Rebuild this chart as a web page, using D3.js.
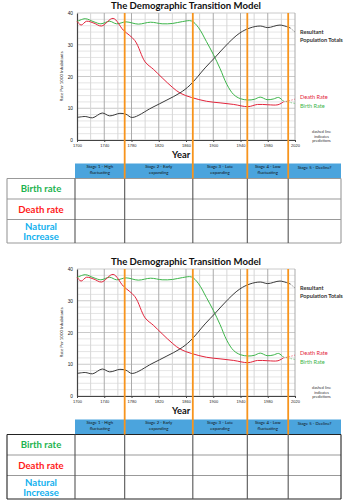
<!DOCTYPE html>
<html>
<head>
<meta charset="utf-8">
<script src="https://cdn.jsdelivr.net/npm/d3@7"></script>
<style>
  body { margin: 0; background: #fff; }
  svg { display: block; font-family: Lato, "Open Sans", sans-serif; }
</style>
</head>
<body>
<div id="chart"></div>
<script>
// --- data ---
const birthYears = [1700, 1712, 1725, 1735, 1748, 1758, 1772, 1790, 1808, 1825, 1840, 1855, 1868, 1878, 1890, 1900, 1910, 1920, 1930, 1940, 1951, 1960, 1969, 1979, 1988, 1996, 2002];
const birthRate  = [37.3, 38.2, 37.2, 36.6, 37.4, 36.6, 37.2, 36.5, 37.1, 36.6, 36.7, 37.3, 37.5, 35.5, 31, 27, 22.5, 17.5, 14.3, 13, 12.6, 12.8, 13.5, 12.7, 12.9, 13.4, 12.4];
const birthPredYears = [2002, 2011, 2020];
const birthPred = [12.4, 11.9, 11.5];

const deathYears = [1700, 1706, 1714, 1725, 1736, 1753, 1768, 1785, 1800, 1812, 1825, 1840, 1852, 1868, 1890, 1910, 1930, 1951, 1965, 1980, 1995, 2003];
const deathRate  = [37.4, 36.2, 37.4, 36.8, 35.9, 38.3, 34.6, 31.3, 24.6, 22.3, 19.6, 16.6, 14.7, 13.4, 12.2, 11.7, 11.2, 10.5, 11.2, 11.1, 11.1, 12];
const deathPredYears = [2003, 2012, 2020];
const deathPred = [12, 12.4, 12.9];

const popYears = [1700, 1712, 1723, 1737, 1748, 1763, 1772, 1781, 1810, 1832, 1851, 1866, 1888, 1903, 1922, 1939, 1954, 1969, 1980, 1998, 2013];
const popTotal = [7.1, 7.4, 7.0, 8.5, 7.6, 8.4, 8.1, 7.1, 10.2, 12.6, 14.8, 17.3, 22.7, 26.1, 30.5, 33.7, 35.3, 35.9, 35.4, 36.2, 35.3];
const popPredYears = [2013, 2020];
const popPred = [35.3, 34.0];

const stageBreaks = [1770, 1870, 1950, 2010];
const stageLabels = [
  ['Stage 1 - High', 'fluctuating'],
  ['Stage 2 - Early', 'expanding'],
  ['Stage 3 - Late', 'expanding'],
  ['Stage 4 - Low', 'fluctuating'],
  ['Stage 5 - Decline?']
];
const rowLabels = [['Birth rate'], ['Death rate'], ['Natural', 'Increase']];
const rowColors = ['#1db34f', '#ff1a1a', '#12b0ee'];
const yTicks = [0, 10, 20, 30, 40];
const xTicks = [1700, 1740, 1780, 1820, 1860, 1900, 1940, 1980, 2020];

const width = 353, height = 500;
const svg = d3.select('#chart').append('svg')
  .attr('width', width)
  .attr('height', height);

const x = d3.scaleLinear().domain([1700, 2020]).range([77, 295]);
const y = d3.scaleLinear().domain([0, 40]).range([140, 13]);

const line = d3.line()
  .x(d => x(d[0]))
  .y(d => y(d[1]))
  .curve(d3.curveCatmullRom.alpha(0.5));

function drawPanel(offsetY, darkFrame) {
  const g = svg.append('g').attr('transform', `translate(0,${offsetY})`);

  // grid
  const grid = g.append('g');
  grid.selectAll('.hg')
    .data(d3.range(0, 41, 2))
    .enter().append('line')
    .attr('x1', x(1700)).attr('x2', x(2020))
    .attr('y1', d => y(d)).attr('y2', d => y(d))
    .attr('stroke', d => d % 10 === 0 ? '#bdbdbd' : '#dedede')
    .attr('stroke-width', 0.8);
  grid.selectAll('.vg')
    .data(d3.range(1720, 2021, 20))
    .enter().append('line')
    .attr('x1', d => x(d)).attr('x2', d => x(d))
    .attr('y1', y(40)).attr('y2', y(0))
    .attr('stroke', d => (d - 1700) % 40 === 0 ? '#ababab' : '#d6d6d6')
    .attr('stroke-width', 1);

  // axes
  g.append('g')
    .attr('transform', `translate(0,${y(0)})`)
    .call(d3.axisBottom(x).tickValues(xTicks).tickSize(2).tickPadding(2).tickFormat(d3.format('d')))
    .call(a => a.select('.domain').attr('stroke', '#444'))
    .call(a => a.selectAll('.tick line').attr('stroke', '#444'))
    .call(a => a.selectAll('text').attr('font-size', 4).attr('fill', '#222'));
  g.append('g')
    .attr('transform', `translate(${x(1700)},0)`)
    .call(d3.axisLeft(y).tickValues(yTicks).tickSize(0).tickPadding(4))
    .call(a => a.select('.domain').attr('stroke', '#444').attr('stroke-width', 1.2))
    .call(a => a.selectAll('text').attr('font-size', 4.8).attr('fill', '#222'));

  g.append('text')
    .attr('transform', `translate(63,${y(20)}) rotate(-90)`)
    .attr('text-anchor', 'middle')
    .attr('font-size', 4.4)
    .attr('fill', '#222')
    .text('Rate Per 1000 Inhabitants');

  // series
  const series = [
    { pts: d3.zip(birthYears, birthRate), pred: d3.zip(birthPredYears, birthPred), color: '#3db54a' },
    { pts: d3.zip(deathYears, deathRate), pred: d3.zip(deathPredYears, deathPred), color: '#e3243b' },
    { pts: d3.zip(popYears, popTotal), pred: d3.zip(popPredYears, popPred), color: '#3a3a3a' }
  ];
  series.forEach(s => {
    g.append('path').datum(s.pts)
      .attr('d', line).attr('fill', 'none')
      .attr('stroke', s.color).attr('stroke-width', 1);
    g.append('path').datum(s.pred)
      .attr('d', line).attr('fill', 'none')
      .attr('stroke', s.color).attr('stroke-opacity', 0.6)
      .attr('stroke-width', 0.9).attr('stroke-dasharray', '1.5,1.2');
  });

  // title and labels
  g.append('text')
    .attr('x', 186).attr('y', 8.6)
    .attr('text-anchor', 'middle')
    .attr('font-size', 9.6).attr('font-weight', 'bold').attr('fill', '#111')
    .text('The Demographic Transition Model');
  g.append('text')
    .attr('x', 172).attr('y', 158.3)
    .attr('font-size', 9.4).attr('font-weight', 'bold').attr('fill', '#111')
    .text('Year');

  g.append('text').attr('x', 300).attr('y', 34.2)
    .attr('font-size', 5.6).attr('font-weight', 'bold').attr('fill', '#333').text('Resultant');
  g.append('text').attr('x', 300).attr('y', 42.4)
    .attr('font-size', 5.6).attr('font-weight', 'bold').attr('fill', '#333').text('Population Totals');
  g.append('text').attr('x', 300).attr('y', 99.4)
    .attr('font-size', 5.6).attr('fill', '#e3243b').text('Death Rate');
  g.append('text').attr('x', 300).attr('y', 108.4)
    .attr('font-size', 5.6).attr('fill', '#3db54a').text('Birth Rate');
  ['dashed line', 'indicates', 'predictions'].forEach((t, i) => {
    g.append('text').attr('x', 321.5).attr('y', 133 + i * 4.6)
      .attr('text-anchor', 'middle')
      .attr('font-size', 3.8).attr('fill', '#333').text(t);
  });

  // table
  const cols = [7, 75].concat(stageBreaks.map(x), [341]);
  const headTop = 163.5, headBot = 178.5;
  const rowEdges = [178.5, 199, 219.5, 243];
  const frame = darkFrame ? '#222' : '#999';

  for (let i = 1; i < cols.length - 1; i++) {
    g.append('rect')
      .attr('x', cols[i]).attr('y', headTop)
      .attr('width', cols[i + 1] - cols[i]).attr('height', headBot - headTop)
      .attr('fill', '#4ba4dd');
    stageLabels[i - 1].forEach((t, j, arr) => {
      g.append('text')
        .attr('x', (cols[i] + cols[i + 1]) / 2)
        .attr('y', arr.length === 1 ? 169 : 168.2 + j * 5.4)
        .attr('text-anchor', 'middle')
        .attr('font-size', 4.3).attr('fill', '#111')
        .text(t);
    });
  }

  // row lines
  rowEdges.forEach((ry, i) => {
    g.append('line')
      .attr('x1', cols[0]).attr('x2', cols[cols.length - 1])
      .attr('y1', ry).attr('y2', ry)
      .attr('stroke', (i === 0 || i === rowEdges.length - 1) ? frame : '#999')
      .attr('stroke-width', 1.2);
  });
  // column lines
  cols.forEach((cx, i) => {
    g.append('line')
      .attr('x1', cx).attr('x2', cx)
      .attr('y1', rowEdges[0]).attr('y2', rowEdges[rowEdges.length - 1])
      .attr('stroke', (i === 0 || i === cols.length - 1) ? frame : '#555')
      .attr('stroke-width', 1.1);
  });

  rowLabels.forEach((lines, i) => {
    const cy = (rowEdges[i] + rowEdges[i + 1]) / 2;
    lines.forEach((t, j) => {
      g.append('text')
        .attr('x', 41)
        .attr('y', cy + 3.3 + (j - (lines.length - 1) / 2) * 10)
        .attr('text-anchor', 'middle')
        .attr('font-size', 9.6).attr('font-weight', 'bold')
        .attr('fill', rowColors[i])
        .text(t);
    });
  });

  // stage boundaries
  g.selectAll('.stage')
    .data(stageBreaks)
    .enter().append('line')
    .attr('x1', d => x(d)).attr('x2', d => x(d))
    .attr('y1', y(40)).attr('y2', headBot)
    .attr('stroke', '#f7941d').attr('stroke-width', 1.8);
}

drawPanel(0, false);
drawPanel(256, true);
</script>
</body>
</html>
